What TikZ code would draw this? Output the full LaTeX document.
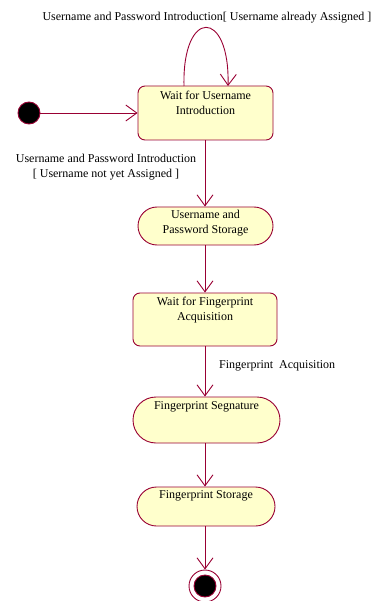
\documentclass[tikz,border=0pt]{standalone}
\usepackage{fontspec}
\setmainfont{Liberation Serif}
\usetikzlibrary{shapes.misc,arrows.meta}
\definecolor{umlline}{HTML}{990033}
\definecolor{umlfill}{HTML}{FFFFCC}
\tikzset{
  statebox/.style={draw=umlline, fill=umlfill, line width=0.9pt, rounded corners=7pt, inner sep=0pt},
  actbox/.style={draw=umlline, fill=umlfill, line width=0.9pt, rounded rectangle, rounded rectangle arc length=180, inner sep=0pt},
  txt/.style={font=\fontsize{12}{14.5}\selectfont, align=center, inner sep=0pt, anchor=north},
  flow/.style={draw=umlline, line width=0.9pt, -{Straight Barb[length=11pt,width=16pt,line width=0.9pt]}},
}
\begin{document}
\begin{tikzpicture}[x=1pt,y=1pt]
\useasboundingbox (0,0) rectangle (372,-601);
% initial
\node[circle, fill=black, draw=umlline, line width=0.9pt, minimum size=22pt, inner sep=0pt] (init) at (29,-113) {};
% states
\node[statebox, minimum width=135pt, minimum height=54pt] (w1) at (205.5,-113) {};
\node[txt] (w1t) at (205.5,-91) {Wait for Username\\Introduction};
\node[actbox, minimum width=135pt, minimum height=38pt] (s1) at (205.5,-226) {};
\node[txt] (s1t) at (205.5,-210) {Username and\\Password Storage};
\node[statebox, minimum width=144pt, minimum height=53pt] (w2) at (205,-319.5) {};
\node[txt] (w2t) at (205,-297) {Wait for Fingerprint\\Acquisition};
\node[actbox, minimum width=147pt, minimum height=46pt] (s2) at (206.5,-420) {};
\node[txt] (s2t) at (206.5,-401) {Fingerprint Segnature};
\node[actbox, minimum width=138pt, minimum height=39pt] (s3) at (206,-506.5) {};
\node[txt] (s3t) at (206,-490) {Fingerprint Storage};
% final
\node[circle, draw=umlline, fill=white, line width=0.9pt, minimum size=32pt, inner sep=0pt] (fin) at (205,-586) {};
\node[circle, draw=umlline, fill=black, line width=0.9pt, minimum size=22pt, inner sep=0pt] (finin) at (fin) {};
% connectors
\draw[flow] (init) -- (w1);
\coordinate (l1) at (184,-86);
\coordinate (l2) at (228,-86);
\draw[flow] (l1) .. controls (182,-8) and (230,-8) .. (l2);
\node[txt] (toplab) at (207,-12) {Username and Password Introduction{[} Username already Assigned {]}};
\draw[flow] (w1.south -| 205,0) -- (s1.north -| 205,0);
\node[txt] (lab1) at (106,-154) {Username and Password Introduction\\{[} Username not yet Assigned {]}};
\draw[flow] (s1.south -| 205,0) -- (w2.north -| 205,0);
\draw[flow] (w2.south -| 205,0) -- (s2.north -| 205,0);
\node[txt, anchor=north west] (lab2) at (219,-360) {Fingerprint\ \ Acquisition};
\draw[flow] (s2.south -| 205,0) -- (s3.north -| 205,0);
\draw[flow] (s3.south -| 205,0) -- (fin.north);
\end{tikzpicture}
\end{document}
